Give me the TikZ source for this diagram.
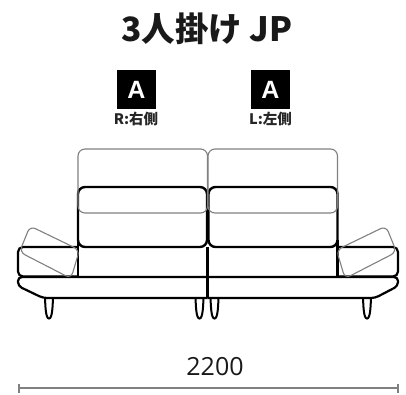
\documentclass[tikz,border=0pt]{standalone}
\usepackage{fontspec}
\setmainfont{Noto Sans CJK JP}
\newfontfamily\digitfont{Open Sans}
\newfontfamily\badgefont{Liberation Sans}
\tikzset{
  blk/.style={draw=black,line width=2.2pt,line join=round},
  cush/.style={draw=black,line width=2.4pt,line join=round},
  gry/.style={draw=black!50,line width=1.1pt,line join=round},
  leg/.style={draw=black,line width=2pt,fill=white},
  badge/.style={fill=black,text=white,minimum size=39pt,inner sep=0pt,font=\fontsize{25}{25}\selectfont\badgefont\bfseries},
  side/.style={font=\fontsize{14.5}{15}\selectfont\bfseries,text=black!85,inner sep=0pt},
  dim/.style={draw=black!50,line width=1.2pt}
}
\begin{document}
\begin{tikzpicture}[x=1pt,y=-1pt]
\useasboundingbox (0,0) rectangle (406,394);
\fill[white] (0,0) rectangle (406,394);
\node[inner sep=0pt,font=\fontsize{33.5}{34}\selectfont\bfseries,text=black!90] (title) at (207,29) {3人掛け JP};
\node[badge] (a1) at (136.5,89.5) {A};
\node[badge] (a2) at (270.5,89.5) {A};
\node[side] (r) at (136,118.5) {R:右側};
\node[side] (l) at (270.5,118.5) {L:左側};
% legs
\foreach \x in {49,199.5,214.5,367}{
  \draw[leg] (\x-4,298) .. controls (\x-3.6,306) and (\x-3.4,318.5) .. (\x,318.5) .. controls (\x+3.4,318.5) and (\x+3.6,306) .. (\x+4,298);
}
% bases
\draw[blk,rounded corners=4pt] (207.5,277) -- (18,277) -- (18,286) -- (43,298) -- (207.5,298);
\draw[blk,rounded corners=4pt] (207.5,277) -- (398,277) -- (398,286) -- (375,298) -- (207.5,298);
\draw[blk] (207.5,247) -- (207.5,298);
% arms
\draw[blk,rounded corners=5pt] (78,247) -- (18,247) -- (18,276.5) -- (78,276.5);
\draw[blk,rounded corners=5pt] (337.5,247) -- (398,247) -- (398,276.5) -- (337.5,276.5);
% back cushions
\draw[blk] (78,240) -- (78,276.5);
\draw[blk] (337.5,240) -- (337.5,276.5);
\draw[cush,rounded corners=7pt] (78,187) rectangle (207,247);
\draw[cush,rounded corners=7pt] (208.5,187) rectangle (337.5,247);
% raised cushions
\draw[gry,rounded corners=7pt] (78,149) rectangle (207.5,213);
\draw[gry,rounded corners=7pt] (208,149) rectangle (337.5,213);
\draw[gry,rounded corners=6pt] (30,226) -- (79.5,250) -- (71,278.5) -- (19.5,252) -- cycle;
\draw[gry,rounded corners=6pt] (386,226) -- (396.5,252) -- (345,278.5) -- (336.5,250) -- cycle;
% dimension
\coordinate (d1) at (19,388);
\coordinate (d2) at (398,388);
\draw[dim] (d1) -- (d2);
\draw[dim] (19,383.5) -- (19,392.5);
\draw[dim] (398,383.5) -- (398,392.5);
\node[inner sep=0pt,font=\fontsize{25}{26}\selectfont\digitfont,text=black!90] (dimt) at (215,367) {2200};
\end{tikzpicture}
\end{document}
